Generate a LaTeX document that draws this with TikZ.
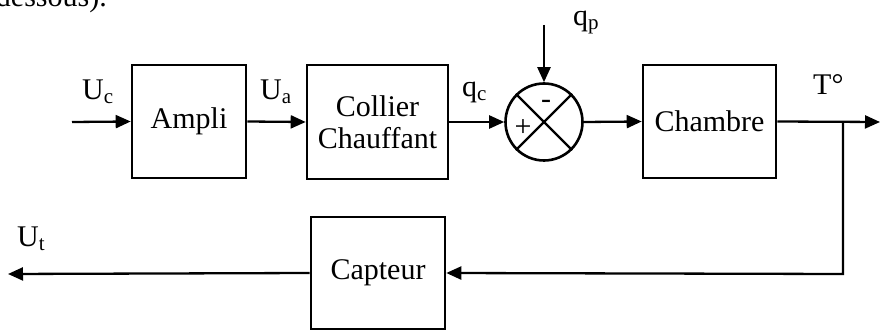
\documentclass[tikz,border=0pt]{standalone}
\usepackage{fontspec}
\setmainfont{Liberation Serif}
\usetikzlibrary{arrows.meta}
\begin{document}
\begin{tikzpicture}[x=1pt,y=-1pt,
  font=\fontsize{30pt}{34pt}\selectfont,
  blk/.style={draw,line width=2.6pt,rectangle,inner sep=0pt,align=center},
  sumc/.style={draw,line width=2.6pt,circle,minimum size=77pt,inner sep=0pt},
  conn/.style={line width=2.3pt,-{Triangle[length=15pt,width=13pt]}},
  wire/.style={line width=2.3pt},
  lbl/.style={inner sep=0pt,anchor=base west}]
\clip (0,0) rectangle (881,331);
\useasboundingbox (0,0) rectangle (881,331);
% blocks
\node[blk,minimum width=114pt,minimum height=113pt] (ampli) at (189,121.5) {Ampli};
\node[blk,minimum width=141pt,minimum height=114pt] (collier) at (377.5,122) {Collier\\[-2pt]Chauffant};
\node[sumc] (sum) at (544,122) {};
\node[blk,minimum width=133pt,minimum height=113pt] (chambre) at (709.5,121.5) {Chambre};
\node[blk,minimum width=134pt,minimum height=112pt] (capteur) at (378,273) {Capteur};
% free ends
\coordinate (in) at (72,122);
\coordinate (out) at (880,122);
\coordinate (br) at (843,122);
\coordinate (brd) at (843,274);
\coordinate (ut) at (8,274);
\coordinate (qp) at (544,25);
% cross in summer
\draw[wire] (sum.north west) -- (sum.south east);
\draw[wire] (sum.north east) -- (sum.south west);
\node[inner sep=0pt] (minus) at (546,104) {-};
\node[inner sep=0pt] (plus) at (523,128) {+};
% connectors
\draw[conn] (in) -- (ampli.west);
\draw[conn] (ampli.east) -- (collier.west);
\draw[conn] (collier.east) -- (sum.west);
\draw[conn] (qp) -- (sum.north);
\draw[conn] (sum.east) -- (chambre.west);
\draw[conn] (chambre.east) -- (out);
\draw[conn] (br) -- (brd) -- (capteur.east);
\draw[conn] (capteur.west) -- (ut);
% labels
\node[lbl] (luc) at (82,100) {U\textsubscript{c}};
\node[lbl] (lua) at (260,100) {U\textsubscript{a}};
\node[lbl] (lqc) at (462,97) {q\textsubscript{c}};
\node[lbl] (lqp) at (573,26) {q\textsubscript{p}};
\node[lbl] (lt) at (813,95) {T°};
\node[lbl] (lut) at (17,247) {U\textsubscript{t}};
\node[inner sep=0pt,anchor=base east] (txt) at (107,7) {dessous).};
\end{tikzpicture}
\end{document}
